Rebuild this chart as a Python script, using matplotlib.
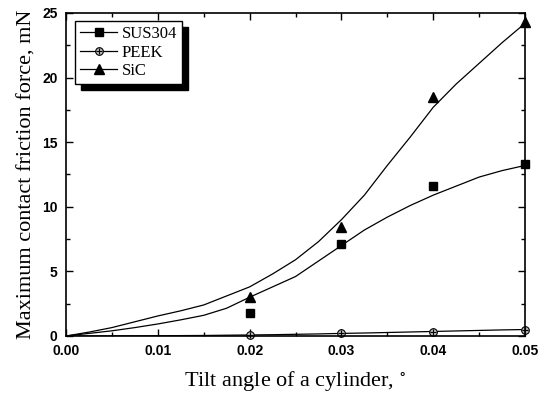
import numpy as np
import matplotlib
matplotlib.use("Agg")
import matplotlib.pyplot as plt
from matplotlib.ticker import MultipleLocator

# measured points
tilt = [0.02, 0.03, 0.04, 0.05]
sus304 = [1.8, 7.1, 11.6, 13.3]
peek = [0.1, 0.2, 0.3, 0.5]
sic = [3.0, 8.4, 18.5, 24.3]

# fitted curves
fit_x = [0.0, 0.0025, 0.005, 0.0075, 0.01, 0.0125, 0.015, 0.0175, 0.02, 0.0225,
         0.025, 0.0275, 0.03, 0.0325, 0.035, 0.0375, 0.04, 0.0425, 0.045, 0.0475, 0.05]
fit_sus304 = [0.0, 0.2, 0.4, 0.65, 0.93, 1.25, 1.6, 2.15, 3.0, 3.8,
              4.6, 5.8, 7.0, 8.2, 9.2, 10.1, 10.9, 11.6, 12.3, 12.8, 13.2]
fit_peek = [0.0, 0.0, 0.01, 0.01, 0.02, 0.03, 0.04, 0.06, 0.08, 0.1,
            0.13, 0.16, 0.2, 0.23, 0.27, 0.31, 0.35, 0.39, 0.43, 0.47, 0.5]
fit_sic = [0.0, 0.3, 0.65, 1.1, 1.55, 1.95, 2.4, 3.1, 3.8, 4.8,
           5.9, 7.3, 9.0, 10.9, 13.2, 15.4, 17.7, 19.5, 21.1, 22.7, 24.2]

plt.rcParams['mathtext.fontset'] = 'stix'

fig = plt.figure(figsize=(5.51, 3.95), dpi=100)
ax = fig.add_axes([0.1198, 0.1494, 0.833, 0.8177])

lw = 0.9
ax.plot(fit_x, fit_sus304, color='black', lw=lw)
ax.plot(fit_x, fit_peek, color='black', lw=lw)
ax.plot(fit_x, fit_sic, color='black', lw=lw)

ax.plot(tilt, sus304, ls='none', marker='s', ms=5.5, color='black', clip_on=False)
ax.plot(tilt, peek, ls='none', marker='o', ms=5.5, mfc='#bbbbbb', mec='black', mew=0.8, clip_on=False)
ax.plot(tilt, peek, ls='none', marker='+', ms=4.5, color='black', mew=0.8, clip_on=False)
ax.plot(tilt, sic, ls='none', marker='^', ms=6.5, color='black', clip_on=False)

# legend proxies
h1, = ax.plot([], [], color='black', lw=lw, marker='s', ms=5.5)
h2a, = ax.plot([], [], color='black', lw=lw, marker='o', ms=5.5, mfc='#bbbbbb', mec='black', mew=0.8)
h2b, = ax.plot([], [], color='black', lw=0, marker='+', ms=4.5, mew=0.8)
h3, = ax.plot([], [], color='black', lw=lw, marker='^', ms=6.5)

leg = ax.legend([h1, (h2a, h2b), h3], ['SUS304', 'PEEK', 'SiC'],
                loc='upper left', bbox_to_anchor=(0.02, 0.975),
                prop={'family': 'Liberation Serif', 'size': 12},
                frameon=True, fancybox=False, edgecolor='black',
                shadow={'color': 'black', 'alpha': 1, 'ox': 4, 'oy': -4},
                handlelength=2.2, handletextpad=0.3, borderpad=0.3,
                labelspacing=0.15, borderaxespad=0)
leg.get_frame().set_linewidth(1.0)

ax.set_xlim(0, 0.05)
ax.set_ylim(0, 25)
ax.xaxis.set_major_locator(MultipleLocator(0.01))
ax.xaxis.set_minor_locator(MultipleLocator(0.005))
ax.yaxis.set_major_locator(MultipleLocator(5))
ax.yaxis.set_minor_locator(MultipleLocator(2.5))
ax.xaxis.set_major_formatter(matplotlib.ticker.FormatStrFormatter('%.2f'))
ax.tick_params(which='both', direction='in', top=True, right=True, width=1.0)
ax.tick_params(which='major', length=5)
ax.tick_params(which='minor', length=3)
ax.tick_params(axis='x', which='major', pad=5.5)
ax.tick_params(axis='y', which='major', pad=6)
for lab in ax.get_xticklabels() + ax.get_yticklabels():
    lab.set_fontfamily('Liberation Sans')
    lab.set_fontweight('bold')
    lab.set_fontsize(10)
for s in ax.spines.values():
    s.set_linewidth(1.2)

ax.set_xlabel('Tilt angle of a cylinder, $^{\\circ}$', fontfamily='Liberation Serif', fontsize=16, labelpad=8)
ax.set_ylabel('Maximum contact friction force, mN', fontfamily='Liberation Serif', fontsize=16, labelpad=4)

fig.savefig('out.png', dpi=100)
